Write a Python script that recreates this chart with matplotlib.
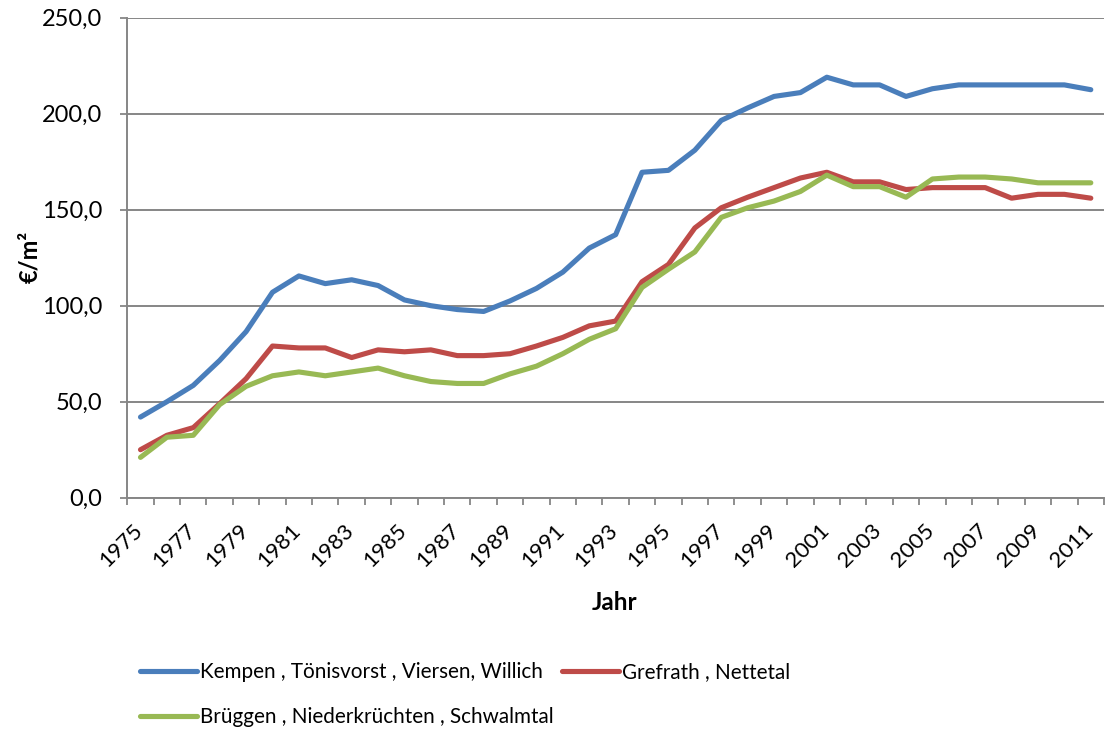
import matplotlib
matplotlib.use('Agg')
import matplotlib.pyplot as plt
import matplotlib.transforms as mtransforms
from matplotlib.ticker import FuncFormatter, MultipleLocator

plt.rcParams['font.family'] = ['Lato', 'DejaVu Sans']

# ---- Data (Bodenrichtwerte, EUR/m2) ----
years = list(range(1975, 2012))

kempen = [42, 50, 58.5, 71.5, 86.5, 107, 115.5, 111.5, 113.5, 110.5,
          103, 100, 98, 97, 102.5, 109, 117.5, 130, 137, 169.5,
          170.5, 181, 196.5, 203, 209, 211, 219, 215, 215, 209,
          213, 215, 215, 215, 215, 215, 212.5]
grefrath = [25, 32.5, 36.5, 49, 62, 79, 78, 78, 73, 77,
            76, 77, 74, 74, 75, 79, 83.5, 89.5, 92, 112.5,
            121.5, 140.5, 151, 156.5, 161.5, 166.5, 169.5, 164.5, 164.5, 160.5,
            161.5, 161.5, 161.5, 156, 158, 158, 156]
brueggen = [21, 31.5, 32.5, 48.5, 58, 63.5, 65.5, 63.5, 65.5, 67.5,
            63.5, 60.5, 59.5, 59.5, 64.5, 68.5, 75, 82.5, 88, 109.5,
            119, 128, 146, 151, 154.5, 159.5, 168, 162, 162, 156.5,
            166, 167, 167, 166, 164, 164, 164]

labels = ['Kempen , Tönisvorst , Viersen, Willich',
          'Grefrath , Nettetal',
          'Brüggen , Niederkrüchten , Schwalmtal']
colors = ['#4A7EBB', '#BE4B48', '#98B954']
tick_years = years[::2]

GRID = '#868686'

fig = plt.figure(figsize=(11.06, 7.31), dpi=100)
ax = fig.add_axes([127.3 / 1106, 1 - 497.7 / 731, (1104 - 127.3) / 1106, (497.7 - 17.7) / 731])

lines = []
for series, lab, col in zip([kempen, grefrath, brueggen], labels, colors):
    ln, = ax.plot(years, series, color=col, lw=3.7, label=lab,
                  solid_joinstyle='round', solid_capstyle='round', zorder=3)
    lines.append(ln)

ax.set_xlim(1974.5, 2011.5)
ax.set_ylim(0, 250)
ax.yaxis.set_major_locator(MultipleLocator(50))
ax.yaxis.set_major_formatter(FuncFormatter(lambda v, p: ('%.1f' % v).replace('.', ',')))

# category axis: ticks on boundaries, labels on centers
ax.set_xticks(tick_years)
ax.set_xticks([y - 0.5 for y in years] + [2011.5], minor=True)
ax.set_xticklabels([str(y) for y in tick_years], rotation=45, ha='right', va='top')
ax.tick_params(axis='x', which='major', length=0, pad=16, labelsize=16, colors='black')
ax.tick_params(axis='x', which='minor', length=5, width=1.3, color=GRID, direction='out')
ax.tick_params(axis='y', length=5, width=1.3, color=GRID, pad=13, labelsize=17, direction='out')

# nudge rotated year labels a little to the right, like the original
shift = mtransforms.ScaledTranslation(0.06, 0, fig.dpi_scale_trans)
for lbl in ax.get_xticklabels():
    lbl.set_transform(lbl.get_transform() + shift)

ax.grid(axis='y', color=GRID, lw=1.4, zorder=0)
ax.set_axisbelow(True)
for s in ['top', 'right']:
    ax.spines[s].set_visible(False)
for s in ['left', 'bottom']:
    ax.spines[s].set_color(GRID)
    ax.spines[s].set_linewidth(1.4)

fig.text(30 / 1106, 1 - 257 / 731, '€/m²', rotation=90, ha='center', va='center',
         fontsize=17, fontweight='bold')
fig.text(615 / 1106, 1 - 603 / 731, 'Jahr', ha='center', va='center',
         fontsize=17.5, fontweight='bold')

# legend: row-major order with two columns
order = [0, 2, 1]
fig.legend([lines[i] for i in order], [labels[i] for i in order],
           ncol=2, loc='upper left', bbox_to_anchor=(140 / 1106, 1 - 662 / 731),
           frameon=False, fontsize=14.9, handlelength=2.75, handletextpad=0.15,
           columnspacing=0.4, labelspacing=1.2, borderpad=0, borderaxespad=0)

fig.savefig('out.png', dpi=100)
